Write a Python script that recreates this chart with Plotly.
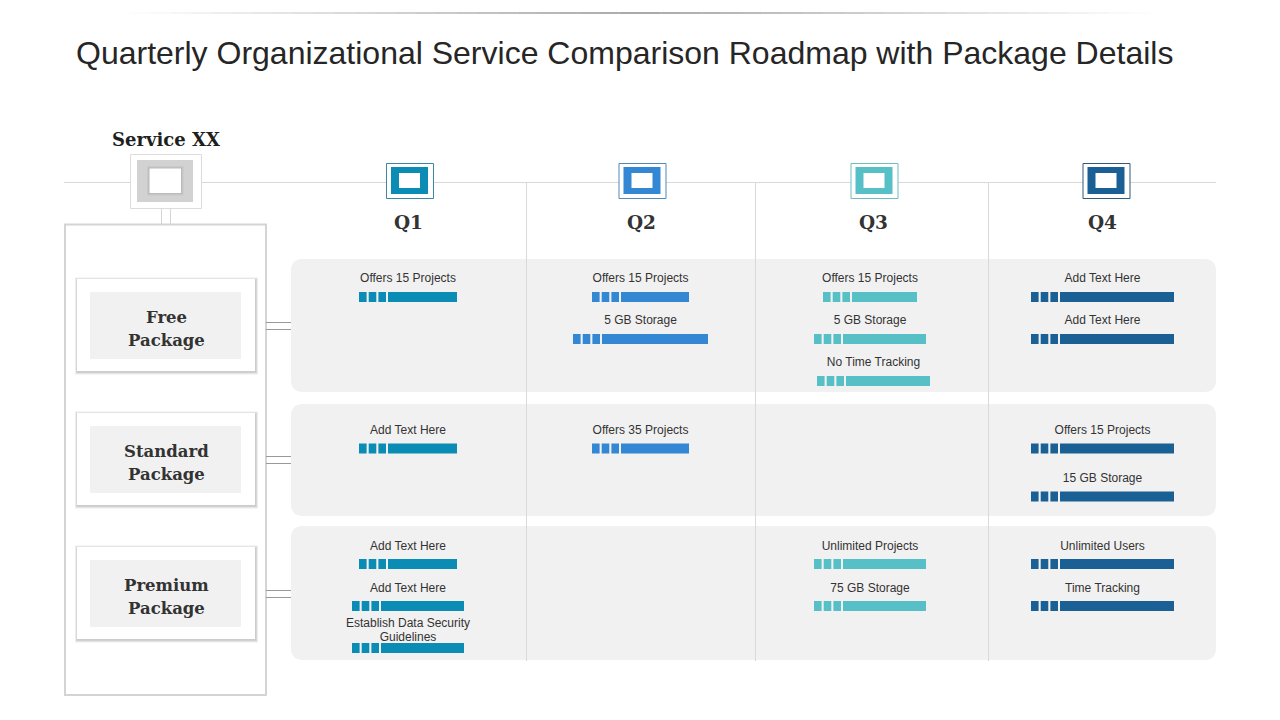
import plotly.graph_objects as go

title = "Quarterly Organizational Service Comparison Roadmap with Package Details"
quarters = ["Q1", "Q2", "Q3", "Q4"]
package_first = ["Free", "Standard", "Premium"]
package_second = ["Package", "Package", "Package"]

# one row per milestone text: package index, slot in that package, text, bar length
q1_package = [0, 1, 2, 2, 2]
q1_slot = [0, 0, 0, 1, 2]
q1_text = ["Offers 15 Projects", "Add Text Here", "Add Text Here", "Add Text Here",
           "Establish Data Security<br>Guidelines"]
q1_length = [98, 98, 98, 112, 112]

q2_package = [0, 0, 1]
q2_slot = [0, 1, 0]
q2_text = ["Offers 15 Projects", "5 GB Storage", "Offers 35 Projects"]
q2_length = [97, 135, 97]

q3_package = [0, 0, 0, 2, 2]
q3_slot = [0, 1, 2, 0, 1]
q3_text = ["Offers 15 Projects", "5 GB Storage", "No Time Tracking", "Unlimited Projects", "75 GB Storage"]
q3_length = [94, 112, 113, 112, 112]

q4_package = [0, 0, 1, 1, 2, 2]
q4_slot = [0, 1, 0, 1, 0, 1]
q4_text = ["Add Text Here", "Add Text Here", "Offers 15 Projects", "15 GB Storage", "Unlimited Users", "Time Tracking"]
q4_length = [143, 143, 143, 143, 143, 143]

colors = ["#0a8cb4", "#3387d3", "#57c0c7", "#1a6095"]
outlines = ["#3d87a5", "#5288b5", "#6fbcc2", "#2f5a7c"]
col_center = [408, 640.5, 870, 1102.5]
head_center = [408, 641, 873, 1102.5]
icon_center = [410, 642.5, 874.5, 1106.5]
slot_y = [[297, 339, 381], [448.5, 496.5], [564, 606, 648]]

GRID = "#d9d9d9"
shapes = []


def rect(x0, y0, x1, y1, fill=None, line=None, width=1, opacity=1):
    shapes.append(dict(type="rect", x0=x0, y0=y0, x1=x1, y1=y1, fillcolor=fill or "rgba(0,0,0,0)",
                       line=dict(color=line or "rgba(0,0,0,0)", width=width if line else 0),
                       opacity=opacity, layer="below"))


def hline(x0, x1, y, color=GRID, width=1):
    shapes.append(dict(type="line", x0=x0, x1=x1, y0=y, y1=y, line=dict(color=color, width=width), layer="below"))


def vline(x, y0, y1, color=GRID, width=1):
    shapes.append(dict(type="line", x0=x, x1=x, y0=y0, y1=y1, line=dict(color=color, width=width), layer="below"))


def panel(x0, y0, x1, y1, r=12):
    path = (f"M {x0+r},{y0} L {x1-r},{y0} Q {x1},{y0} {x1},{y0+r} L {x1},{y1-r} Q {x1},{y1} {x1-r},{y1} "
            f"L {x0+r},{y1} Q {x0},{y1} {x0},{y1-r} L {x0},{y0+r} Q {x0},{y0} {x0+r},{y0} Z")
    shapes.append(dict(type="path", path=path, fillcolor="#f1f1f1", line=dict(width=0), layer="below"))


def shadow(x0, y0, x1, y1, dx=0.5, dy=1, alpha=0.07):
    for s in (2.5, 1.5, 0.8):
        rect(x0 - s + dx, y0 - s + dy, x1 + s + dx, y1 + s + dy, fill="#000000", opacity=alpha)


# fading rule at the top
for i in range(50):
    a = 130 + i * 20.4
    fade = 1 - abs(i - 24.5) / 25
    shapes.append(dict(type="line", x0=a, x1=a + 20.4, y0=13, y1=13, opacity=fade * 0.6,
                       line=dict(color="#707070", width=2), layer="below"))

hline(64, 1216, 182.5)

# grey panels behind the rows
panel(291, 259, 1216, 392)
panel(291, 404, 1216, 516)
panel(291, 526, 1216, 660)
for x in (526.5, 755.5, 988.5):
    vline(x, 182, 661)

# left column
rect(65, 224.5, 266, 695, fill="#ffffff", line="#d4d4d4", width=2)
vline(161.5, 209, 224, "#d4d4d4")
vline(170.5, 209, 224, "#d4d4d4")
rect(130.5, 154.5, 201.5, 208.5, fill="#ffffff", line="#dcdcdc")
rect(137, 160, 193, 202, fill="#d2d2d2")
shadow(149.5, 168.5, 181, 193, 0, 0, 0.04)
rect(149.5, 168.5, 181, 193, fill="#ffffff")

annotations = [
    dict(x=624.5, y=53, text=title, font=dict(family="Liberation Sans", size=32, color="#262626")),
    dict(x=166, y=139, text="Service XX", font=dict(family="DejaVu Serif", size=18, color="#1f1f1f", weight="bold")),
]

card_top = [279, 413, 547]
for top, first, second in zip(card_top, package_first, package_second):
    shadow(77, top, 255, top + 92)
    rect(77, top, 255, top + 92, fill="#ffffff")
    rect(90, top + 13, 241, top + 80, fill="#f1f1f1")
    hline(266, 291, top + 43.5, "#999999")
    hline(266, 291, top + 50.5, "#999999")
    for name, dy in ((first, 38), (second, 61)):
        annotations.append(dict(x=166, y=top + dy, text=name,
                                font=dict(family="DejaVu Serif", size=16.5, color="#333333", weight="bold")))

# quarter icons and headings
for q, cx, lx, fill, edge in zip(quarters, icon_center, head_center, colors, outlines):
    rect(cx - 23.5, 163.5, cx + 23.5, 198.5, fill="#ffffff", line=edge)
    rect(cx - 19, 167, cx + 18, 194, fill=fill)
    rect(cx - 11, 173, cx + 10, 188, fill="#ffffff")
    annotations.append(dict(x=lx, y=222.5, text=q, font=dict(family="DejaVu Serif", size=18.5, color="#333333", weight="bold")))

fig = go.Figure()

rows = [(q1_package, q1_slot, q1_text, q1_length), (q2_package, q2_slot, q2_text, q2_length),
        (q3_package, q3_slot, q3_text, q3_length), (q4_package, q4_slot, q4_text, q4_length)]

for i, (pkg, slot, text, length) in enumerate(rows):
    ys, bases, lens = [], [], []
    tx, ty, tt = [], [], []
    for p, s, t, n in zip(pkg, slot, text, length):
        y = slot_y[p][s]
        center = col_center[i]
        if t == "No Time Tracking":
            center += 3.5
        left = center - n / 2
        # three small blocks, then the long bar
        for k in range(3):
            ys.append(y)
            bases.append(left + k * 9.7)
            lens.append(7.6)
        ys.append(y)
        bases.append(left + 29)
        lens.append(n - 29)
        # the two line label sits tighter than the browser would set it
        if "<br>" in t:
            upper, lower = t.split("<br>")
            tx += [center, center]
            ty += [y - 18, y - 4]
            tt += [upper, lower]
        else:
            tx.append(center)
            ty.append(y - (12 if p == 0 else 11.5))
            tt.append(t)
    fig.add_trace(go.Bar(y=ys, x=lens, base=bases, orientation="h", width=10, marker=dict(color=colors[i], line=dict(width=0)),
                         hoverinfo="skip"))
    fig.add_trace(go.Scatter(x=tx, y=ty, mode="text", text=tt, textposition="top center",
                             textfont=dict(family="Liberation Sans", size=12, color="#333333"), hoverinfo="skip"))

# the page body keeps an 8px margin, so the axes start 8 units in
fig.update_layout(
    width=1280, height=720, margin=dict(l=0, r=0, t=0, b=0), showlegend=False,
    paper_bgcolor="#ffffff", plot_bgcolor="#ffffff", barmode="overlay",
    xaxis=dict(range=[8, 1288], visible=False, fixedrange=True),
    yaxis=dict(range=[728, 8], visible=False, fixedrange=True),
    shapes=shapes,
    annotations=[dict(a, xref="x", yref="y", showarrow=False) for a in annotations],
)
fig.write_html("out.html")
